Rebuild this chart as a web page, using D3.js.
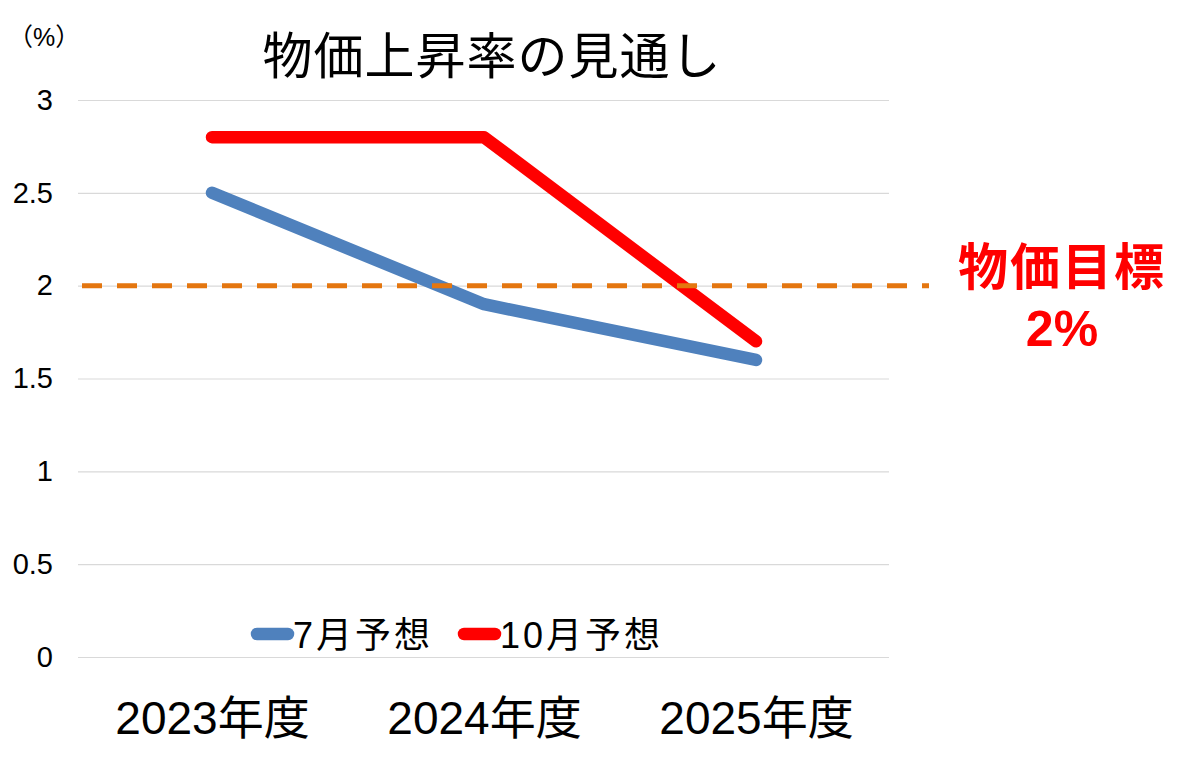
<!DOCTYPE html>
<html>
<head>
<meta charset="utf-8">
<script src="https://cdn.jsdelivr.net/npm/d3@7"></script>
<style>
  body { margin: 0; background: #fff; }
  text { font-family: "Liberation Sans", Arial, "Noto Sans CJK JP", sans-serif; fill: #000; }
</style>
</head>
<body>
<svg id="grafico"></svg>
<script>
// データ
var categories = ['2023年度', '2024年度', '2025年度'];
var forecastJuly = [2.5, 1.9, 1.6];
var forecastOctober = [2.8, 2.8, 1.7];
var yTicks = [0, 0.5, 1, 1.5, 2, 2.5, 3];
var seriesNames = ['7月予想', '10月予想'];
var targetValue = 2;

var largura = 1200, altura = 761;

var svg = d3.select('#grafico')
            .attr('width', largura)
            .attr('height', altura);

// 縦軸・横軸のスケール
var y = d3.scaleLinear()
          .domain([0, 3])
          .range([657, 100]);

var x = d3.scalePoint()
          .domain(categories)
          .range([76, 892])
          .padding(0.5);

// 目盛り線
var grade = d3.axisLeft(y)
              .tickValues(yTicks)
              .tickSize(-(889 - 78))
              .tickFormat('');
svg.append('g')
   .attr('transform', 'translate(78,0)')
   .call(grade)
   .call(g => g.select('.domain').remove())
   .selectAll('line')
   .attr('stroke', '#d9d9d9')
   .attr('stroke-width', 1.2);

// 縦軸ラベル
var eixoY = d3.axisLeft(y)
              .tickValues(yTicks)
              .tickSize(0)
              .tickPadding(0)
              .tickFormat(d => String(d));
svg.append('g')
   .attr('transform', 'translate(53,0)')
   .call(eixoY)
   .call(g => g.select('.domain').remove())
   .selectAll('text')
   .style('font-size', '29px')
   .attr('fill', '#000');

// 横軸ラベル
var eixoX = d3.axisBottom(x)
              .tickSize(0)
              .tickPadding(0);
svg.append('g')
   .attr('transform', 'translate(0,657)')
   .call(eixoX)
   .call(g => g.select('.domain').remove())
   .selectAll('text')
   .attr('dy', null)
   .attr('y', 77)
   .style('font-size', '46px')
   .attr('fill', '#000');

// 折れ線
var linha = d3.line()
              .x((d, i) => x(categories[i]))
              .y(d => y(d));

var series = [
  { nome: seriesNames[0], valores: forecastJuly, cor: '#4f81bd' },
  { nome: seriesNames[1], valores: forecastOctober, cor: '#ff0000' }
];

svg.selectAll('.serie')
   .data(series)
   .enter()
   .append('path')
   .classed('serie', true)
   .attr('d', d => linha(d.valores))
   .attr('fill', 'none')
   .attr('stroke', d => d.cor)
   .attr('stroke-width', 12.5)
   .attr('stroke-linecap', 'round')
   .attr('stroke-linejoin', 'round');

// 物価目標の破線
svg.append('line')
   .attr('x1', 82)
   .attr('x2', 929)
   .attr('y1', y(targetValue))
   .attr('y2', y(targetValue))
   .attr('stroke', '#e4760f')
   .attr('stroke-width', 5)
   .attr('stroke-dasharray', '20,15');

// 凡例
var legendaX = [251, 458];
var legenda = svg.selectAll('.legenda')
                 .data(series)
                 .enter()
                 .append('g')
                 .classed('legenda', true)
                 .attr('transform', (d, i) => 'translate(' + legendaX[i] + ',634)');
legenda.append('line')
       .attr('x1', 6)
       .attr('x2', 37)
       .attr('stroke', d => d.cor)
       .attr('stroke-width', 12.5)
       .attr('stroke-linecap', 'round');
legenda.append('text')
       .attr('x', 42)
       .attr('y', 14)
       .style('font-size', '36px')
       .style('letter-spacing', '3px')
       .text(d => d.nome);

// タイトル
svg.append('text')
   .attr('x', 492)
   .attr('y', 74)
   .attr('text-anchor', 'middle')
   .style('font-size', '50px')
   .style('letter-spacing', '1px')
   .text('物価上昇率の見通し');

// 単位
svg.append('text')
   .attr('x', 8)
   .attr('y', 46)
   .style('font-size', '25px')
   .text('（%）');

// 注記
var nota = svg.append('text')
              .attr('text-anchor', 'middle')
              .attr('fill', '#ff0000')
              .style('fill', '#ff0000')
              .style('font-weight', 'bold')
              .style('font-size', '50px');
nota.append('tspan')
    .attr('x', 1062)
    .attr('y', 285)
    .style('letter-spacing', '2px')
    .text('物価目標');
nota.append('tspan')
    .attr('x', 1062)
    .attr('y', 346)
    .text(targetValue + '%');
</script>
</body>
</html>
